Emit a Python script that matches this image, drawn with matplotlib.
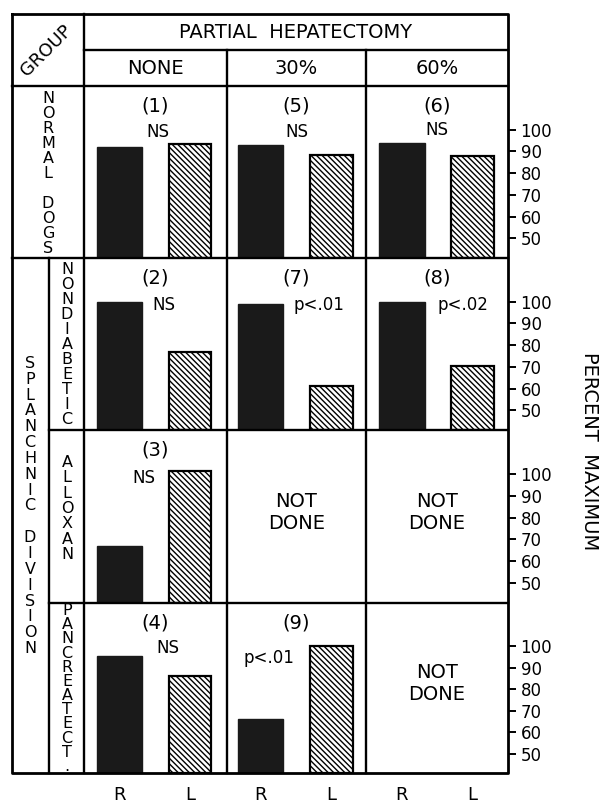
import numpy as np
import matplotlib.pyplot as plt

plt.rcParams['font.family'] = ['DejaVu Sans']
plt.rcParams['hatch.linewidth'] = 1.0

# data
groups = ["NORMAL DOGS", "NONDIABETIC", "ALLOXAN", "PANCREATECT."]
hepatectomy = ["NONE", "30%", "60%"]
right_vals = [[92, 93, 94], [100, 99, 100], [67, None, None], [95.5, 66, None]]
left_vals = [[93.5, 88.5, 88], [77, 61, 70.5], [101.5, None, None], [86, 100, None]]
exp_nums = [["(1)", "(5)", "(6)"], ["(2)", "(7)", "(8)"], ["(3)", None, None], ["(4)", "(9)", None]]
signif = [["NS", "NS", "NS"], ["NS", "p<.01", "p<.02"], ["NS", None, None], ["NS", "p<.01", None]]
yticks = [50, 60, 70, 80, 90, 100]
sides = ["R", "L"]

W, H = 615, 811
fig = plt.figure(figsize=(W / 100, H / 100), dpi=100)

def box(x0, y0, x1, y1):
    # pixel box -> figure fraction
    return [x0 / W, 1 - y1 / H, (x1 - x0) / W, (y1 - y0) / H]

# layout in pixels
left, right, top, bottom = 12, 508, 14, 773
grp_x, sub_x = 84, 49
col_edges = [84, 227, 366, 508]
row_edges = [86, 258, 430, 603, 773]
sig_dx = [[2, 0, 0], [8, 22, 26], [-12, 0, 0], [12, -28, 0]]
sig_dy = [[46, 46, 44], [47, 47, 47], [48, 0, 0], [45, 55, 0]]

# bar panels, one per group row
for r in range(4):
    ax = fig.add_axes(box(grp_x, row_edges[r], right, row_edges[r + 1]))
    ax.set_xlim(0, 3)
    ax.set_ylim(41, 120)
    for c in range(3):
        if right_vals[r][c] is not None:
            ax.bar(c + 0.25, right_vals[r][c] - 41, bottom=41, width=0.32,
                   color='#1a1a1a', edgecolor='#1a1a1a')
        if left_vals[r][c] is not None:
            ax.bar(c + 0.75, left_vals[r][c] - 41, bottom=41, width=0.30,
                   facecolor='white', edgecolor='black', hatch='\\\\\\\\\\\\', linewidth=1.6)
    for s in ax.spines.values():
        s.set_visible(False)
    ax.patch.set_alpha(0)
    ax.yaxis.tick_right()
    ax.set_yticks(yticks)
    ax.tick_params(axis='y', direction='out', length=6, width=1.4, pad=3, labelsize=12)
    if r == 3:
        ax.set_xticks([c + d for c in range(3) for d in (0.25, 0.75)])
        ax.set_xticklabels(sides * 3, fontsize=13)
        ax.tick_params(axis='x', length=0, pad=9)
    else:
        ax.set_xticks([])

# overlay for frame lines and text, in pixel coordinates
g = fig.add_axes([0, 0, 1, 1])
g.set_xlim(0, W)
g.set_ylim(H, 0)
g.axis('off')
g.set_zorder(10)
g.patch.set_alpha(0)

lw = 1.7
g.plot([left, right, right, left, left], [top, top, bottom, bottom, top], color='black', lw=2.0)
g.plot([grp_x, right], [50, 50], color='black', lw=lw)
for y in row_edges[:2]:
    g.plot([left, right], [y, y], color='black', lw=lw)
for y in row_edges[2:4]:
    g.plot([sub_x, right], [y, y], color='black', lw=lw)
g.plot([grp_x, grp_x], [top, bottom], color='black', lw=lw)
for x in col_edges[1:3]:
    g.plot([x, x], [50, bottom], color='black', lw=lw)
g.plot([sub_x, sub_x], [row_edges[1], bottom], color='black', lw=lw)

# headers
g.text(46, 51, "GROUP", rotation=45, ha='center', va='center', fontsize=13)
g.text((grp_x + right) / 2, 32, "PARTIAL  HEPATECTOMY", ha='center', va='center', fontsize=14)
for c, name in enumerate(hepatectomy):
    g.text((col_edges[c] + col_edges[c + 1]) / 2, 68, name, ha='center', va='center', fontsize=14)

# stacked row labels
def stacked(x, y0, y1, text, spacing, size=11.5):
    g.text(x, (y0 + y1) / 2, "\n".join(text), ha='center', va='center',
           fontsize=size, linespacing=spacing)

stacked(48, 90, 257, groups[0], 1.0)
stacked(30, 350, 662, "SPLANCHNIC DIVISION", 1.07)
stacked(67, 261, 428, groups[1], 1.0)
stacked(67, 452, 565, groups[2], 1.03)
stacked(67, 605, 772, groups[3], 0.93)

# cell annotations
for r in range(4):
    for c in range(3):
        cx = (col_edges[c] + col_edges[c + 1]) / 2
        y0 = row_edges[r]
        if exp_nums[r][c] is None:
            cy = (row_edges[r] + row_edges[r + 1]) / 2
            g.text(cx, cy - 4, "NOT\nDONE", ha='center', va='center', fontsize=14, linespacing=1.2)
            continue
        g.text(cx, y0 + 20, exp_nums[r][c], ha='center', va='center', fontsize=14)
        g.text(cx + sig_dx[r][c], y0 + sig_dy[r][c], signif[r][c], ha='center', va='center', fontsize=12)

g.text(589, 451, "PERCENT  MAXIMUM", rotation=270, ha='center', va='center', fontsize=14)

fig.savefig("out.png", dpi=100)
